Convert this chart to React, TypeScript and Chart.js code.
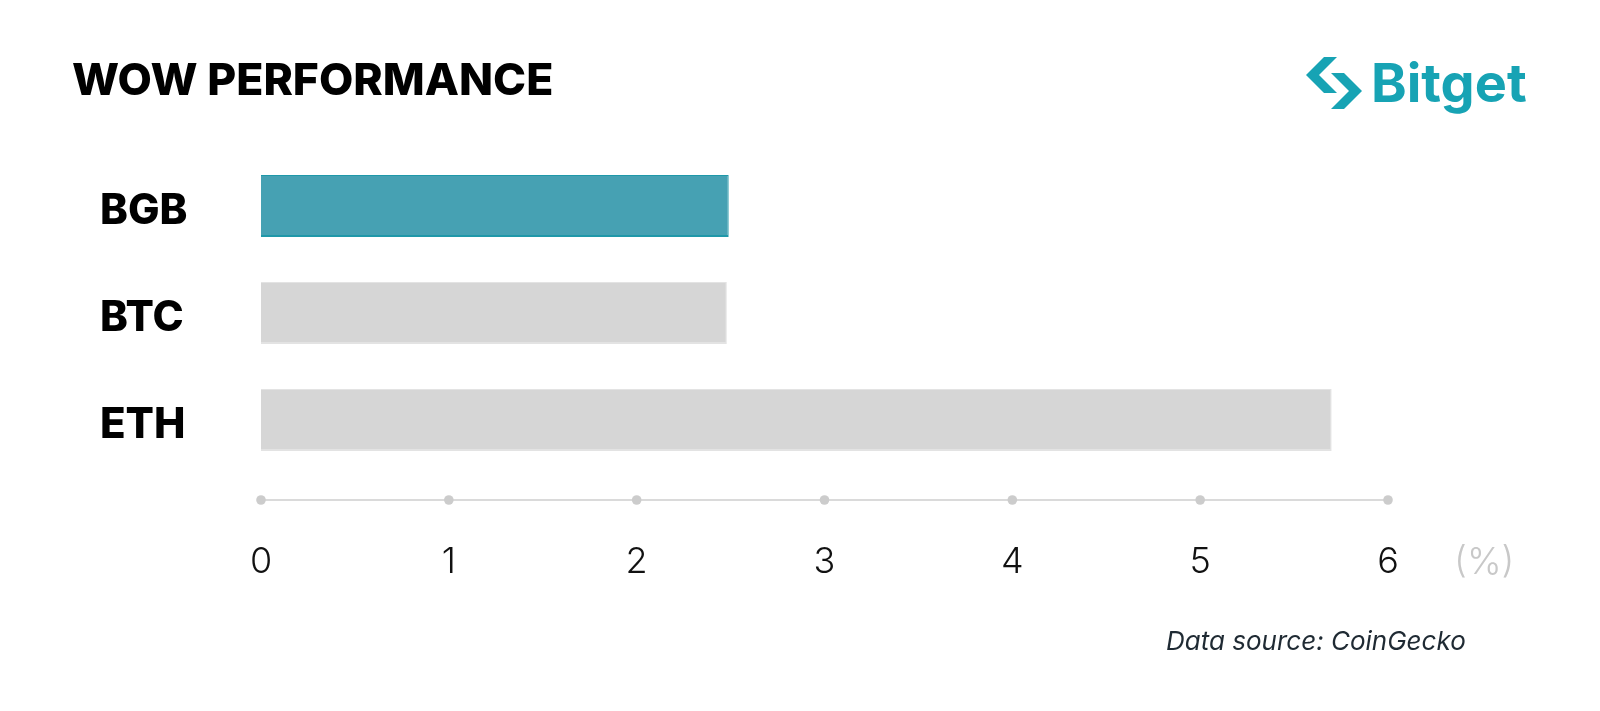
import React, { useEffect, useRef } from "react";
import { Chart, registerables } from "chart.js";

Chart.register(...registerables);

// ---- data ----
const categories = ["BGB", "BTC", "ETH"];
const wowValues = [2.49, 2.48, 5.7];
const barColors = ["#46a1b3", "#d6d6d6", "#d6d6d6"];
const barBorderColors = ["#1f98a9", "#e3e3e3", "#e3e3e3"];
const xMin = 0;
const xMax = 6;
const xStep = 1;
const titleText = "WOW PERFORMANCE";
const unitText = "(%)";
const sourceText = "Data source: CoinGecko";
const brandText = "Bitget";

const FONT = "Inter, 'Noto Sans', sans-serif";

const dotAxisPlugin = {
  id: "dotAxis",
  afterDraw(chart: any) {
    const ctx = chart.ctx;
    const xs = chart.scales.x;
    const area = chart.chartArea;
    const yLine = area.bottom + 26.5;
    const x0 = xs.getPixelForValue(xMin);
    const x1 = xs.getPixelForValue(xMax);
    ctx.save();
    ctx.strokeStyle = "#dadada";
    ctx.lineWidth = 2;
    ctx.beginPath();
    ctx.moveTo(x0, yLine);
    ctx.lineTo(x1, yLine);
    ctx.stroke();
    ctx.fillStyle = "#cccccc";
    xs.ticks.forEach((t: any) => {
      const px = xs.getPixelForValue(t.value);
      ctx.beginPath();
      ctx.arc(px, yLine, 4.8, 0, Math.PI * 2);
      ctx.fill();
    });
    // unit label
    ctx.font = `300 37px ${FONT}`;
    ctx.fillStyle = "#c8c8c8";
    ctx.textAlign = "left";
    ctx.textBaseline = "middle";
    ctx.fillText(unitText, x1 + 66, area.bottom + 71 + 18);
    ctx.restore();
  },
};

function BitgetIcon() {
  const left = "18,2 31,2 13,20 31,38 18,38 0,20";
  const right = "38,18 56,36 38,54 25,54 43,36 25,18";
  return (
    <svg width={56} height={56} viewBox="0 0 56 56" style={{ position: "absolute", left: 1306, top: 55 }}>
      <polygon points={left} fill="#17a3b4" />
      <polygon points={right} fill="#17a3b4" />
    </svg>
  );
}

export default function App() {
  const canvasRef = useRef<HTMLCanvasElement | null>(null);

  useEffect(() => {
    const prevMargin = document.body.style.margin;
    document.body.style.margin = "0";
    const canvas = canvasRef.current;
    if (!canvas) return;
    const chart = new Chart(canvas, {
      type: "bar",
      data: {
        labels: categories,
        datasets: [
          {
            data: wowValues,
            backgroundColor: barColors,
            borderColor: barBorderColors,
            borderWidth: { top: 1, bottom: 2, left: 0, right: 1 } as any,
            borderSkipped: false,
            barPercentage: 0.58,
            categoryPercentage: 1,
          },
        ],
      },
      options: {
        indexAxis: "y",
        responsive: false,
        animation: false,
        devicePixelRatio: 1,
        layout: { padding: { left: 100, right: 212, top: 152.5, bottom: 117.5 } },
        plugins: {
          legend: { display: false },
          tooltip: { enabled: false },
          title: { display: false },
        },
        scales: {
          x: {
            type: "linear",
            position: "bottom",
            min: xMin,
            max: xMax,
            grid: { display: false, drawTicks: false },
            border: { display: false },
            ticks: {
              stepSize: xStep,
              padding: 71,
              color: "#111111",
              font: { family: FONT, size: 36, weight: 300 as any, lineHeight: 1 },
              maxRotation: 0,
            },
            afterFit: (s: any) => {
              s.height = 120;
            },
          },
          y: {
            type: "category",
            position: "left",
            offset: true,
            grid: { display: false, drawTicks: false },
            border: { display: false },
            ticks: {
              crossAlign: "far",
              padding: 0,
              labelOffset: 5,
              color: "#000000",
              font: { family: FONT, size: 42, weight: 800 as any },
            },
            afterFit: (s: any) => {
              s.width = 161;
            },
          },
        },
      },
      plugins: [dotAxisPlugin],
    });
    return () => {
      chart.destroy();
      document.body.style.margin = prevMargin;
    };
  }, []);

  return (
    <div
      style={{
        position: "absolute",
        left: 0,
        top: 0,
        width: 1600,
        height: 711,
        background: "#ffffff",
        overflow: "hidden",
        fontFamily: FONT,
      }}
    >
      <canvas ref={canvasRef} width={1600} height={711} style={{ position: "absolute", left: 0, top: 0, width: 1600, height: 711 }} />
      <div
        style={{
          position: "absolute",
          left: 72,
          top: 57,
          fontSize: 44.5,
          lineHeight: "44px",
          fontWeight: 800,
          color: "#000000",
          whiteSpace: "nowrap",
        }}
      >
        {titleText}
      </div>
      <BitgetIcon />
      <div
        style={{
          position: "absolute",
          left: 1371,
          top: 56,
          fontSize: 54,
          lineHeight: "54px",
          fontWeight: 700,
          color: "#17a3b4",
          whiteSpace: "nowrap",
          letterSpacing: 0,
        }}
      >
        {brandText}
      </div>
      <div
        style={{
          position: "absolute",
          left: 1166,
          top: 628,
          fontSize: 26,
          lineHeight: "26px",
          fontStyle: "italic",
          color: "#1f2a33",
          whiteSpace: "nowrap",
        }}
      >
        {sourceText}
      </div>
    </div>
  );
}
